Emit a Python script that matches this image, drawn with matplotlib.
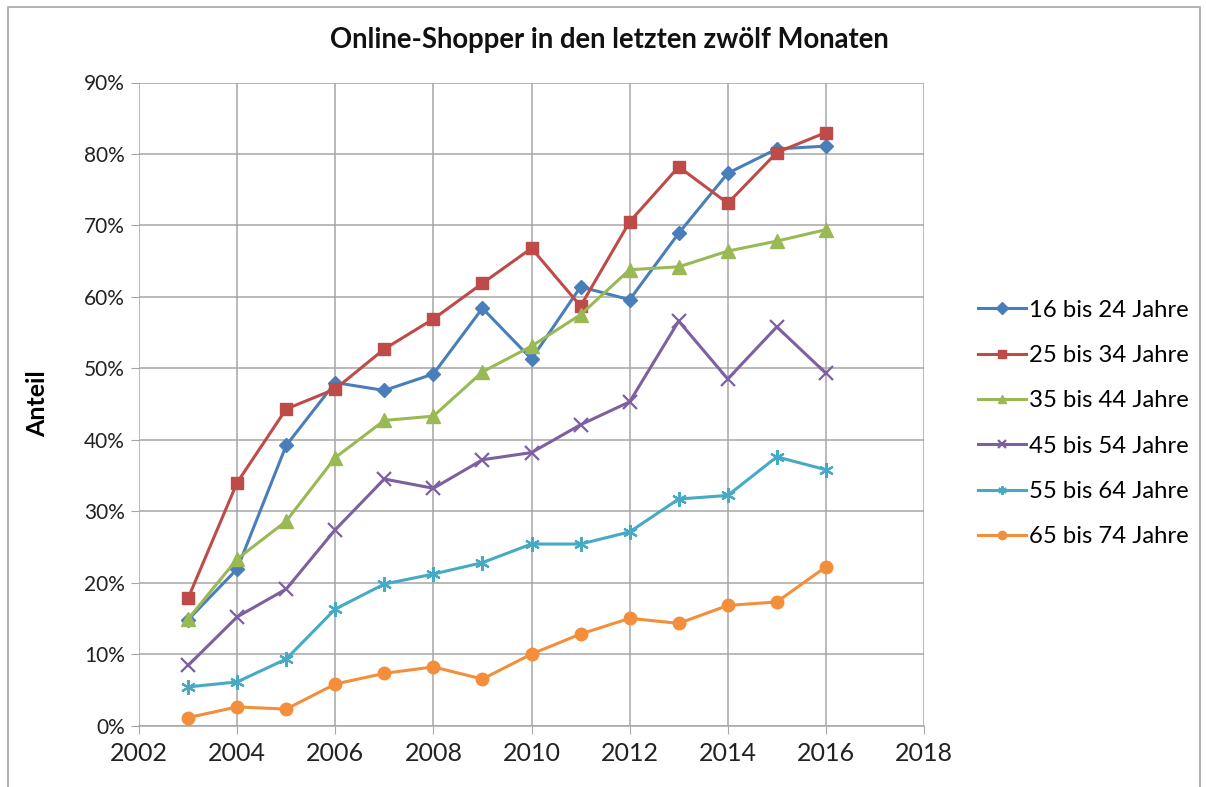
import matplotlib
matplotlib.use("Agg")
import matplotlib.pyplot as plt
from matplotlib.patches import Rectangle
from matplotlib.ticker import FuncFormatter, MultipleLocator

years = [2003, 2004, 2005, 2006, 2007, 2008, 2009, 2010, 2011, 2012, 2013, 2014, 2015, 2016]

s16_24 = [14.8, 21.9, 39.2, 48.0, 46.9, 49.2, 58.4, 51.3, 61.4, 59.6, 68.9, 77.3, 80.7, 81.1]
s25_34 = [17.8, 34.0, 44.3, 47.1, 52.7, 56.9, 61.9, 66.8, 58.7, 70.5, 78.2, 73.1, 80.2, 83.0]
s35_44 = [14.9, 23.3, 28.6, 37.5, 42.7, 43.3, 49.5, 53.1, 57.5, 63.8, 64.2, 66.4, 67.8, 69.4]
s45_54 = [8.4, 15.2, 19.1, 27.4, 34.5, 33.2, 37.2, 38.2, 42.1, 45.3, 56.6, 48.5, 55.8, 49.3]
s55_64 = [5.4, 6.1, 9.3, 16.3, 19.8, 21.2, 22.8, 25.4, 25.4, 27.1, 31.7, 32.2, 37.6, 35.8]
s65_74 = [1.1, 2.6, 2.3, 5.8, 7.3, 8.2, 6.5, 10.0, 12.8, 15.0, 14.3, 16.8, 17.3, 22.2]

labels = ["16 bis 24 Jahre", "25 bis 34 Jahre", "35 bis 44 Jahre",
          "45 bis 54 Jahre", "55 bis 64 Jahre", "65 bis 74 Jahre"]
title = "Online-Shopper in den letzten zwölf Monaten"
ylabel = "Anteil"
x_ticks = [2002, 2004, 2006, 2008, 2010, 2012, 2014, 2016, 2018]

series = [s16_24, s25_34, s35_44, s45_54, s55_64, s65_74]
colors = ["#4A7EBB", "#BE4B48", "#98B954", "#7D60A0", "#46AAC5", "#F38E3B"]
markers = ["D", "s", "^", "x", (6, 2, 0), "o"]
msizes = [7.5, 9, 9.5, 9.5, 10.5, 9]

plt.rcParams['font.family'] = ['Lato', 'DejaVu Sans']

W, H = 1206, 787
fig = plt.figure(figsize=(W / 100, H / 100), dpi=100)

# outer chart frame
fig.patches.append(Rectangle((8 / W, -0.05), (1200 - 8) / W, 1.05 - 7 / H,
                             transform=fig.transFigure, fill=False,
                             edgecolor="#A6A6A6", linewidth=1.2))

ax = fig.add_axes([139 / W, 1 - 725.5 / H, (924 - 139) / W, (725.5 - 82.5) / H])

for vals, c, m, ms, lab in zip(series, colors, markers, msizes, labels):
    mew = 1.6 if m in ("x", (6, 2, 0)) else 1.0
    ax.plot(years, [v / 100 for v in vals], color=c, marker=m, markersize=ms,
            markeredgewidth=mew, markeredgecolor=c, markerfacecolor=c,
            linewidth=2.2, label=lab, zorder=3)

ax.set_xlim(2002, 2018)
ax.set_ylim(0, 0.9)
ax.set_xticks(x_ticks)
ax.yaxis.set_major_locator(MultipleLocator(0.1))
ax.yaxis.set_major_formatter(FuncFormatter(lambda v, p: f"{round(v * 100):d}%"))
ax.grid(True, color="#A6A6A6", linewidth=1.1)
ax.set_axisbelow(True)
for side in ["top", "right", "left"]:
    ax.spines[side].set_visible(False)
ax.spines["bottom"].set_color("#A6A6A6")
ax.spines["bottom"].set_linewidth(1.1)
ax.tick_params(axis="x", length=6, color="#A6A6A6", labelsize=18, pad=6, labelcolor="#222222")
ax.tick_params(axis="y", length=6, color="#A6A6A6", labelsize=15, pad=4, labelcolor="#222222")

ax.set_ylabel(ylabel, fontsize=18, fontweight="bold")
ax.yaxis.set_label_coords(-0.115, 0.5)
fig.text((330 + 888) / 2 / W, 1 - 40 / H, title, ha="center", va="center",
         fontsize=19.8, fontweight="bold", color="#111111")

leg = fig.legend(loc="center left", bbox_to_anchor=(978 / W, 1 - 423.5 / H),
                 frameon=False, fontsize=17.2, handlelength=2.0, handletextpad=0.15,
                 labelspacing=1.02, borderaxespad=0, borderpad=0)
for h in leg.legend_handles:
    h.set_markersize(6)

fig.savefig("out.png", dpi=100)
